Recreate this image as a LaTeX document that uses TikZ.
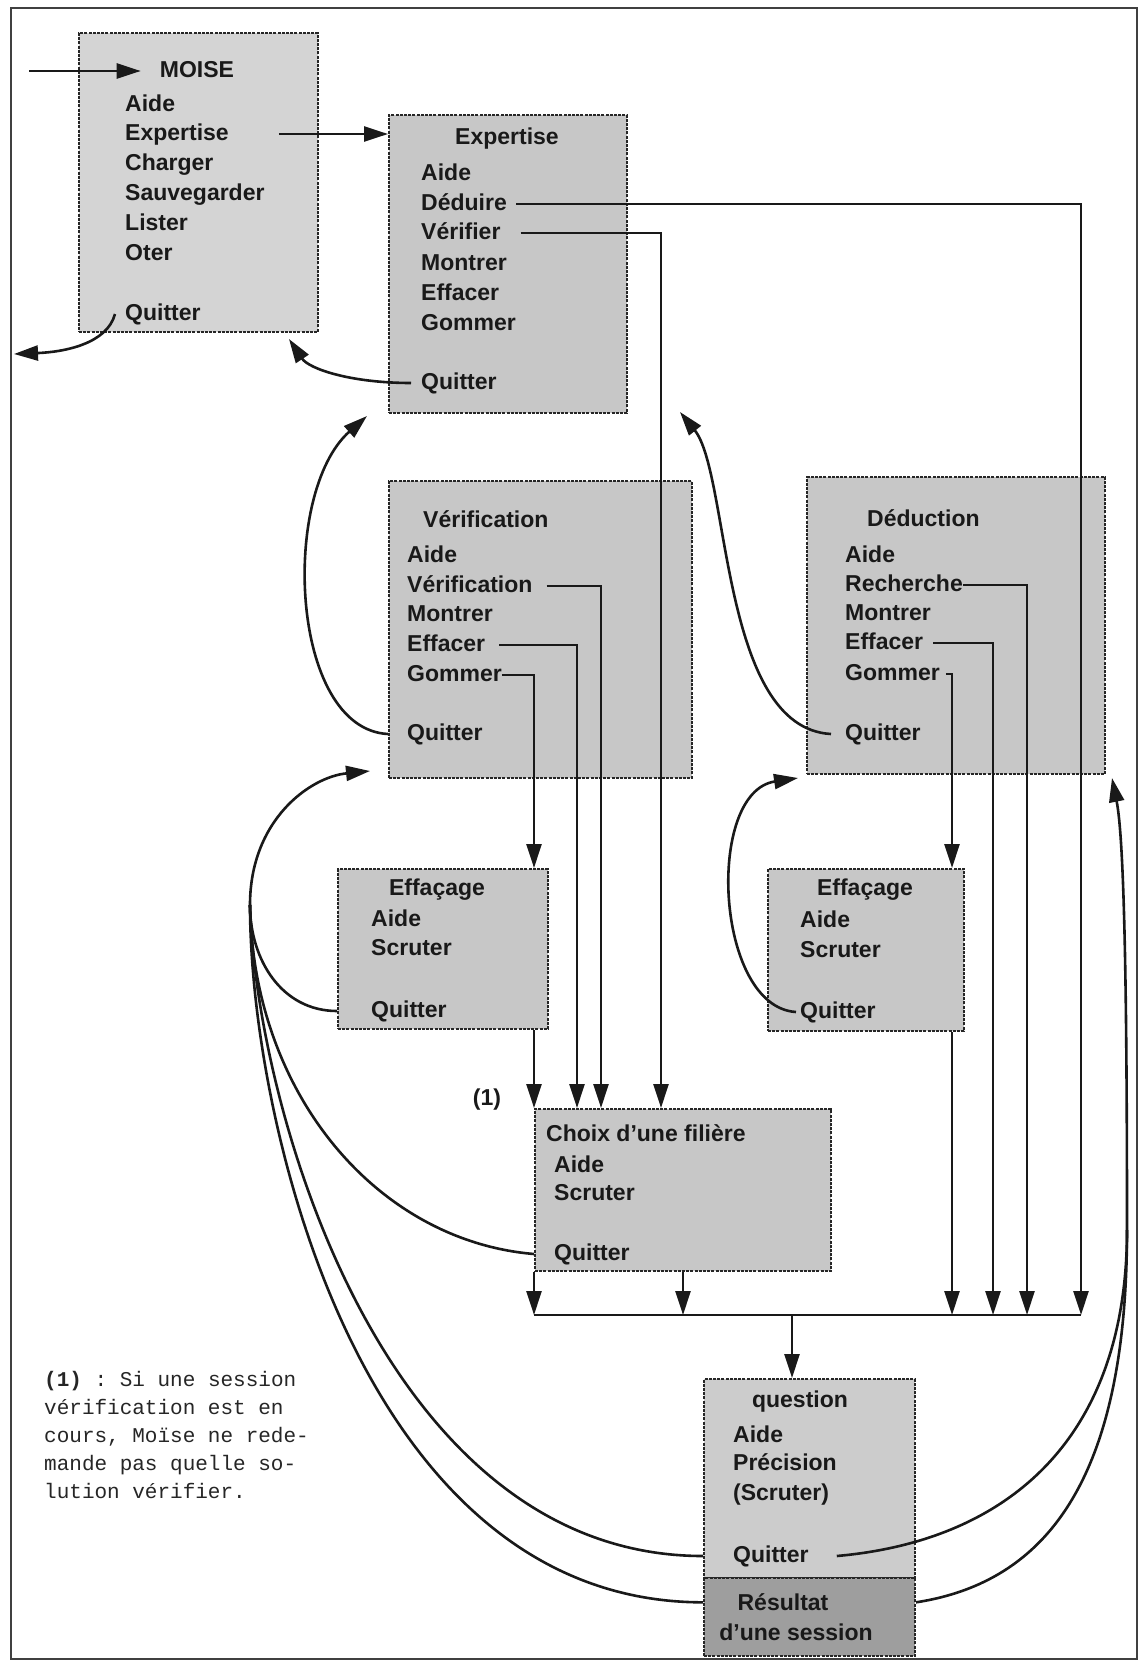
\documentclass[tikz,border=0pt]{standalone}
\usepackage{fontspec}
\setmainfont{Liberation Sans}
\setmonofont{Liberation Mono}
\usetikzlibrary{arrows.meta}
\newcommand{\lowtxt}[1]{\raisebox{-4pt}{#1}}
\begin{document}
\begin{tikzpicture}[x=1pt,y=-1pt,
  box/.style={draw=black!85, line width=2pt, dash pattern=on 3pt off 1.2pt, fill=black!22, anchor=north west, inner sep=0pt},
  lbl/.style={font=\fontsize{23}{27}\selectfont\bfseries, inner sep=0pt, anchor=mid west, text=black!90},
  note/.style={font=\fontsize{21}{28}\selectfont\ttfamily, inner sep=0pt, anchor=mid west, text=black!85},
  arr/.style={draw=black!90, line width=2.6pt, -{Triangle[length=24pt,width=15pt]}},
  ln/.style={draw=black!90, line width=2.6pt},
]
\useasboundingbox (0,0) rectangle (1145,1665);
\fill[white] (0,0) rectangle (1145,1665);
\draw[line width=2pt, black!75] (11,8) rectangle (1137,1659);

% boxes
\node[box, minimum width=239pt, minimum height=299pt, fill=black!17] (moise) at (78,32) {};
\node[box, minimum width=238pt, minimum height=298pt] (expert) at (388,114) {};
\node[box, minimum width=303pt, minimum height=297pt] (verif) at (388,480) {};
\node[box, minimum width=298pt, minimum height=297pt] (deduc) at (806,476) {};
\node[box, minimum width=210pt, minimum height=160pt] (eff1) at (337,868) {};
\node[box, minimum width=196pt, minimum height=162pt] (eff2) at (767,868) {};
\node[box, minimum width=296pt, minimum height=162pt] (choix) at (534,1108) {};
\node[box, minimum width=211pt, minimum height=199pt, fill=black!20] (quest) at (703,1378) {};
\node[box, minimum width=211pt, minimum height=78pt, fill=black!38] (result) at (703,1577) {};

% MOISE
\node[lbl, anchor=mid] (tMoise) at (197,71) {\lowtxt{MOISE}};
\node[lbl] (mAide) at (125,105) {\lowtxt{Aide}};
\node[lbl] (mExp) at (125,134) {\lowtxt{Expertise}};
\node[lbl] (mCha) at (125,164) {\lowtxt{Charger}};
\node[lbl] (mSau) at (125,194) {\lowtxt{Sauvegarder}};
\node[lbl] (mLis) at (125,224) {\lowtxt{Lister}};
\node[lbl] (mOte) at (125,254) {\lowtxt{Oter}};
\node[lbl] (mQuit) at (125,314) {\lowtxt{Quitter}};

% Expertise
\node[lbl, anchor=mid] (tExp) at (507,138) {\lowtxt{Expertise}};
\node[lbl] (eAide) at (421,174) {\lowtxt{Aide}};
\node[lbl] (eDed) at (421,204) {\lowtxt{Déduire}};
\node[lbl] (eVer) at (421,233) {\lowtxt{Vérifier}};
\node[lbl] (eMon) at (421,264) {\lowtxt{Montrer}};
\node[lbl] (eEff) at (421,294) {\lowtxt{Effacer}};
\node[lbl] (eGom) at (421,324) {\lowtxt{Gommer}};
\node[lbl] (eQuit) at (421,383) {\lowtxt{Quitter}};

% Verification
\node[lbl] (tVer) at (423,521) {\lowtxt{Vérification}};
\node[lbl] (vAide) at (407,556) {\lowtxt{Aide}};
\node[lbl] (vVer) at (407,586) {\lowtxt{Vérification}};
\node[lbl] (vMon) at (407,615) {\lowtxt{Montrer}};
\node[lbl] (vEff) at (407,645) {\lowtxt{Effacer}};
\node[lbl] (vGom) at (407,675) {\lowtxt{Gommer}};
\node[lbl] (vQuit) at (407,734) {\lowtxt{Quitter}};

% Deduction
\node[lbl] (tDed) at (867,520) {\lowtxt{Déduction}};
\node[lbl] (dAide) at (845,556) {\lowtxt{Aide}};
\node[lbl] (dRec) at (845,585) {\lowtxt{Recherche}};
\node[lbl] (dMon) at (845,614) {\lowtxt{Montrer}};
\node[lbl] (dEff) at (845,643) {\lowtxt{Effacer}};
\node[lbl] (dGom) at (845,674) {\lowtxt{Gommer}};
\node[lbl] (dQuit) at (845,734) {\lowtxt{Quitter}};

% Effacage 1
\node[lbl, anchor=mid] (tF1) at (437,889) {\lowtxt{Effaçage}};
\node[lbl] (f1Aide) at (371,920) {\lowtxt{Aide}};
\node[lbl] (f1Scr) at (371,949) {\lowtxt{Scruter}};
\node[lbl] (f1Quit) at (371,1011) {\lowtxt{Quitter}};

% Effacage 2
\node[lbl, anchor=mid] (tF2) at (865,889) {\lowtxt{Effaçage}};
\node[lbl] (f2Aide) at (800,921) {\lowtxt{Aide}};
\node[lbl] (f2Scr) at (800,951) {\lowtxt{Scruter}};
\node[lbl] (f2Quit) at (800,1012) {\lowtxt{Quitter}};

% Choix
\node[lbl] (tCh) at (546,1135) {\lowtxt{Choix d'une filière}};
\node[lbl] (cAide) at (554,1166) {\lowtxt{Aide}};
\node[lbl] (cScr) at (554,1194) {\lowtxt{Scruter}};
\node[lbl] (cQuit) at (554,1254) {\lowtxt{Quitter}};
\node[lbl, anchor=mid] (one) at (487,1099) {\lowtxt{(1)}};

% question
\node[lbl, anchor=mid] (tQ) at (800,1401) {\lowtxt{question}};
\node[lbl] (qAide) at (733,1436) {\lowtxt{Aide}};
\node[lbl] (qPre) at (733,1464) {\lowtxt{Précision}};
\node[lbl] (qScr) at (733,1494) {\lowtxt{(Scruter)}};
\node[lbl] (qQuit) at (733,1556) {\lowtxt{Quitter}};
\node[lbl, anchor=mid] (rRes) at (783,1604) {\lowtxt{Résultat}};
\node[lbl, anchor=mid] (rSes) at (796,1634) {\lowtxt{d'une session}};

% footnote
\node[note] (fn1) at (44,1384) {\textbf{(1)} : Si une session};
\node[note] (fn2) at (44,1412) {vérification est en};
\node[note] (fn3) at (44,1440) {cours, Moïse ne rede-};
\node[note] (fn4) at (44,1468) {mande pas quelle so-};
\node[note] (fn5) at (44,1496) {lution vérifier.};

% helper coordinates
\coordinate (entry) at (29,71);
\coordinate (exitL) at (14,354);
\coordinate (xa) at (534,0);
\coordinate (xb) at (577,0);
\coordinate (xc) at (601,0);
\coordinate (xd) at (661,0);
\coordinate (xe) at (952,0);
\coordinate (xf) at (993,0);
\coordinate (xg) at (1027,0);
\coordinate (xh) at (1081,0);
\coordinate (xq) at (792,0);
\coordinate (bar) at (0,1315);
\coordinate (JL) at (250,905);
\coordinate (JR) at (1127,1230);

% straight connectors
\draw[arr] (entry) -- ([xshift=-19pt]tMoise.mid west);
\draw[arr] ([xshift=50pt]mExp.mid east) -- (expert.west |- mExp.mid east);
\draw[arr] ([xshift=9pt]eDed.mid east) -| (bar -| xh);
\draw[arr] ([xshift=20pt]eVer.mid east) -| (choix.north -| xd);
\draw[arr] ([xshift=14pt]vVer.mid east) -| (choix.north -| xc);
\draw[arr] ([xshift=14pt]vEff.mid east) -| (choix.north -| xb);
\draw[arr] (vGom.mid east) -| (eff1.north -| xa);
\draw[arr] (eff1.south -| xa) -- (choix.north -| xa);
\draw[arr] (dRec.mid east) -| (bar -| xg);
\draw[arr] ([xshift=10pt]dEff.mid east) -| (bar -| xf);
\draw[arr] ([xshift=6pt]dGom.mid east) -| (eff2.north -| xe);
\draw[arr] (eff2.south -| xe) -- (bar -| xe);
\draw[arr] (choix.south west) -- (bar -| xa);
\draw[arr] (choix.south) -- (bar -| choix.south);
\draw[ln] (bar -| xa) -- (bar -| xh);
\draw[arr] (bar -| xq) -- (quest.north -| xq);

% curved returns
\draw[arr] ([xshift=-10pt]mQuit.mid west) .. controls +(-8,30) and +(50,-2) .. (exitL);
\draw[arr] ([xshift=-10pt]eQuit.mid west) .. controls +(-60,0) and +(20,30) .. ([xshift=-30pt,yshift=-6pt]moise.south east);
\draw[arr] (verif.west |- vQuit.mid west) .. controls +(-98,-5) and +(-87,77) .. ([xshift=-21pt,yshift=-2pt]expert.south west);
\draw[arr] ([xshift=-14pt]dQuit.mid west) .. controls +(-111,-6) and +(50,62) .. ([xshift=52pt,yshift=2pt]expert.south east);
\draw[arr] ([xshift=-4pt]f2Quit.mid west) .. controls +(-81,-5) and +(-93,14) .. ([xshift=-8pt,yshift=-3pt]deduc.south west);

% left trunk back to Verification
\draw[arr] (JL) .. controls +(0,-85) and +(-60,6) .. ([xshift=-18pt,yshift=8pt]verif.south west);
\draw[ln] (eff1.west |- f1Quit.mid west) .. controls +(-55,0) and +(0,55) .. (JL);
\draw[ln] (choix.west |- cQuit.mid west) .. controls +(-156,-13) and +(3,190) .. (JL);
\draw[ln] (quest.west |- qQuit.mid west) .. controls +(-323,0) and +(5,195) .. (JL);
\draw[ln] (result.west |- rRes) .. controls +(-343,0) and +(0,215) .. (JL);

% right trunk back to Deduction
\draw[arr] (JR) .. controls +(0,-250) and +(12,60) .. ([xshift=6pt,yshift=-3pt]deduc.south east);
\draw[ln] ([xshift=28pt]qQuit.mid east) .. controls +(170,-15) and +(0,210) .. (JR);
\draw[ln] (result.east |- rRes) .. controls +(130,-20) and +(0,250) .. (JR);
\end{tikzpicture}
\end{document}
